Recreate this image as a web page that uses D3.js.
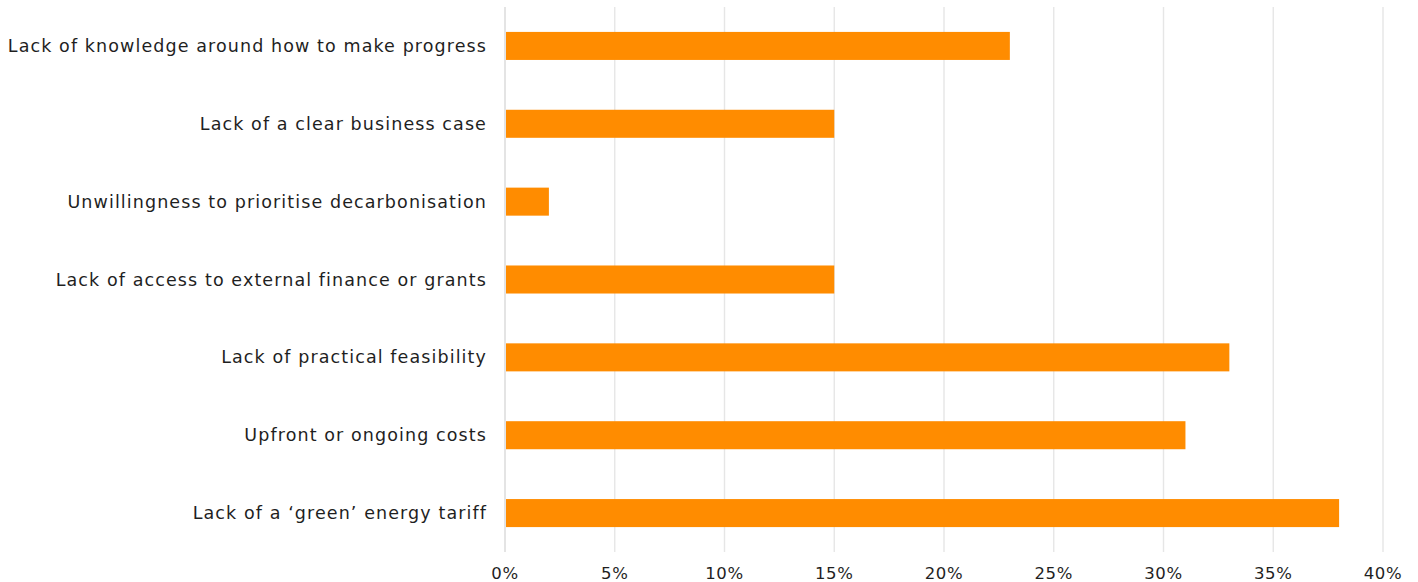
<!DOCTYPE html>
<html>
<head>
<meta charset="utf-8">
<script src="https://cdn.jsdelivr.net/npm/d3@7"></script>
<style>
  html, body { margin: 0; padding: 0; background: #fff; }
  svg { display: block; }
  text { font-family: "DejaVu Sans", "Noto Sans", sans-serif; fill: #1f1f1f; }
</style>
</head>
<body>
<svg id="chart" width="1418" height="582"></svg>
<script>
// Barriers to decarbonisation, share of respondents
const categories = [
  "Lack of knowledge around how to make progress",
  "Lack of a clear business case",
  "Unwillingness to prioritise decarbonisation",
  "Lack of access to external finance or grants",
  "Lack of practical feasibility",
  "Upfront or ongoing costs",
  "Lack of a \u2018green\u2019 energy tariff"
];
const values = [23, 15, 2, 15, 33, 31, 38];
const tickValues = [0, 5, 10, 15, 20, 25, 30, 35, 40];

const svg = d3.select("#chart");
const margin = { left: 505, right: 35, top: 7, bottom: 30 };
const width = 1418, height = 582;

const x = d3.scaleLinear().domain([0, 40]).range([margin.left, width - margin.right]);
const y = d3.scaleBand().domain(categories)
  .range([margin.top, height - margin.bottom])
  .paddingInner(0.64).paddingOuter(0.32);

// vertical gridlines
svg.append("g").selectAll("line").data(tickValues).join("line")
  .attr("x1", d => x(d)).attr("x2", d => x(d))
  .attr("y1", margin.top).attr("y2", height - margin.bottom)
  .attr("stroke", d => d === 0 ? "#d9d9d9" : "#e6e6e6")
  .attr("stroke-width", 1.4);

// bars
svg.append("g").selectAll("rect").data(values).join("rect")
  .attr("x", x(0) + 1)
  .attr("y", (d, i) => y(categories[i]))
  .attr("width", d => x(d) - x(0) - 1)
  .attr("height", y.bandwidth())
  .attr("fill", "#ff8c00");

// category labels
svg.append("g").selectAll("text").data(categories).join("text")
  .attr("x", x(0) - 18)
  .attr("y", d => y(d) + y.bandwidth() / 2)
  .attr("dy", "0.35em")
  .attr("text-anchor", "end")
  .style("font-size", "17.5px")
  .style("letter-spacing", "1.1px")
  .text(d => d);

// x axis tick labels
svg.append("g").selectAll("text").data(tickValues).join("text")
  .attr("x", d => x(d))
  .attr("y", 573.5)
  .attr("dy", "0.35em")
  .attr("text-anchor", "middle")
  .style("font-size", "16.5px")
  .style("letter-spacing", "0.6px")
  .text(d => d + "%");
</script>
</body>
</html>
